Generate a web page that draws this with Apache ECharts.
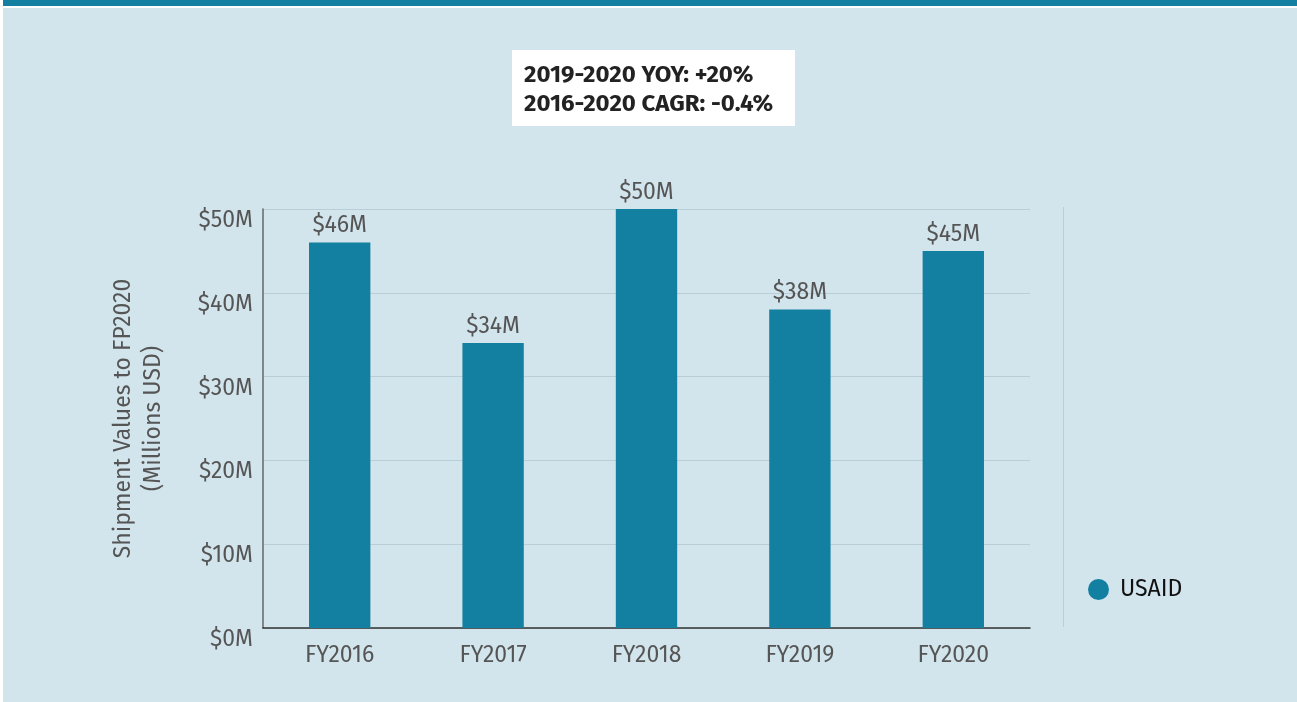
<!DOCTYPE html>
<html><head><meta charset="utf-8">
<script src="https://cdn.jsdelivr.net/npm/echarts@6/dist/echarts.min.js"></script>
<style>html,body{margin:0;padding:0;background:#fff}#c{width:1297px;height:702px}</style>
</head><body><div id="c"></div>
<script>
const categories = ['FY2016','FY2017','FY2018','FY2019','FY2020'];
const usaidValues = [46, 34, 50, 38, 45];
const yTicks = [0, 10, 20, 30, 40, 50];
const seriesName = 'USAID';
const annotationLines = ['2019-2020 YOY: +20%', '2016-2020 CAGR: -0.4%'];
const yTitle = 'Shipment Values to FP2020\n(Millions USD)';

const FONT = "'Fira Sans','Open Sans','Noto Sans',sans-serif";
const TEAL = '#1380a1';
const chart = echarts.init(document.getElementById('c'), null, {renderer:'canvas'});
chart.setOption({
  animation:false,
  textStyle:{fontFamily:FONT},
  graphic:[
    {type:'rect', z:-10, shape:{x:3,y:0,width:1294,height:6}, style:{fill:TEAL}},
    {type:'rect', z:-10, shape:{x:3,y:8,width:1294,height:694}, style:{fill:'#d2e5ec'}},
    {type:'rect', z:-5, shape:{x:512,y:50,width:283,height:76}, style:{fill:'#ffffff'}},
    {type:'text', left:524, top:61, style:{text:annotationLines.join('\n'), font:"bold 24px "+FONT, fill:'#222', lineHeight:29}},
    {type:'line', shape:{x1:1063.5,y1:207,x2:1063.5,y2:627}, style:{stroke:'#b9ced6', lineWidth:1}}
  ],
  legend:{
    data:[seriesName], left:1083, top:573, icon:'circle', itemWidth:21, itemHeight:21, itemGap:10,
    textStyle:{fontSize:23, color:'#111', fontFamily:FONT, padding:[0,0,0,6]}
  },
  grid:{left:263, right:267, top:209, bottom:74, containLabel:false},
  xAxis:{
    type:'category', data:categories,
    axisLine:{lineStyle:{color:'#333', width:1.5}},
    axisTick:{show:false},
    axisLabel:{fontSize:23, color:'#555', margin:16, fontFamily:FONT}
  },
  yAxis:{
    type:'value', min:yTicks[0], max:yTicks[yTicks.length-1], interval:10,
    name:yTitle, nameLocation:'middle', nameGap:94, nameRotate:90,
    nameTextStyle:{fontSize:23, color:'#555', lineHeight:30, fontFamily:FONT},
    axisLine:{show:true, lineStyle:{color:'#666', width:1.5}},
    axisTick:{show:false},
    splitLine:{lineStyle:{color:'#b9ced6', width:1}},
    axisLabel:{fontSize:23, color:'#555', margin:10, verticalAlign:'top', fontFamily:FONT,
      formatter:v=>'$'+v+'M'}
  },
  series:[{
    name:seriesName, type:'bar', data:usaidValues, barWidth:'40%',
    itemStyle:{color:TEAL},
    label:{show:true, position:'top', distance:5, fontSize:23, color:'#555', fontFamily:FONT,
      formatter:p=>'$'+p.value+'M'}
  }]
});
</script></body></html>
